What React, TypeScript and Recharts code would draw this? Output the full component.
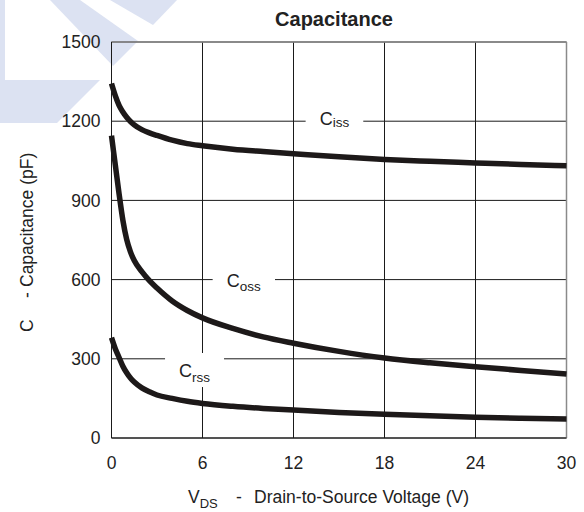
import React from "react";
import {
  CartesianGrid,
  Line,
  LineChart,
  ReferenceArea,
  ReferenceLine,
  XAxis,
  YAxis
} from "recharts";

// drain-to-source voltage (V), denser near 0 where the curves bend
const volts = [0, 0.25, 0.5, 0.75, 1, 1.25, 1.5, 2, 2.5, 3, 4, 5, 6, 8, 10, 12, 15, 18, 21, 24, 27, 30];
// capacitances (pF)
const ciss = [1343, 1297, 1260, 1235, 1215, 1199, 1186, 1168, 1156, 1146, 1128, 1115, 1107, 1094, 1085, 1077, 1065, 1055, 1048, 1042, 1036, 1031];
const coss = [1145, 1035, 925, 825, 752, 705, 672, 630, 596, 568, 519, 483, 455, 415, 383, 359, 328, 303, 285, 270, 256, 242];
const crss = [380, 338, 305, 272, 247, 227, 212, 190, 175, 163, 150, 139, 131, 120, 112, 106, 97, 90, 84, 79, 75, 72];

const voltTicks = [0, 6, 12, 18, 24, 30];
const capTicks = [0, 300, 600, 900, 1200, 1500];

const FONT = "'Liberation Sans', Arial, Helvetica, sans-serif";
const INK = "#1d1919";
const TEXT = "#222";

const data = volts.map((v, i) => ({ v, ciss: ciss[i], coss: coss[i], crss: crss[i] }));

// white box that breaks the grid, with a "C" + subscript label inside
function LabelBox(props: any) {
  const { x, y, width, height, main, sub, dy, subDy } = props;
  if (x == null || y == null) return null;
  const cx = x + width / 2;
  const cy = y + height / 2;
  return (
    <g>
      <rect x={x} y={y} width={width} height={height} fill="#fff" />
      <text x={cx} y={cy + dy} textAnchor="middle" fontFamily={FONT} fontSize={18} fill={TEXT}>
        <tspan>{main}</tspan>
        <tspan fontSize={13.5} dy={subDy}>{sub}</tspan>
      </text>
    </g>
  );
}

function Backdrop() {
  return (
    <svg width={584} height={512} style={{ position: "absolute", left: 0, top: 0 }}>
      <g fill="#dce2f2">
        <polygon points="0,0 5,0 5,80 100,80 57,123 0,123" />
        <polygon points="50,0 80,0 138,41 113,66" />
        <polygon points="110,0 177,0 153,25" />
      </g>
      <text x={334} y={26} textAnchor="middle" fontFamily={FONT} fontWeight="bold" fontSize={20} fill={TEXT}>
        Capacitance
      </text>
      <text fontFamily={FONT} fontSize={17.5} fill={TEXT}>
        <tspan x={188} y={503}>V</tspan>
        <tspan fontSize={13} dy={5}>DS</tspan>
        <tspan x={236} y={503}>-</tspan>
        <tspan x={254} y={503}>Drain-to-Source Voltage (V)</tspan>
      </text>
      <text transform="rotate(-90)" fontFamily={FONT} fontSize={17.5} fill={TEXT}>
        <tspan x={-332} y={33}>C</tspan>
        <tspan x={-298} y={33}>-</tspan>
        <tspan x={-287} y={33}>Capacitance (pF)</tspan>
      </text>
    </svg>
  );
}

export default function App() {
  const tickStyle = { fill: TEXT, fontSize: 17.5, fontFamily: FONT };
  return (
    <div style={{ position: "absolute", left: 0, top: 0, width: 584, height: 512 }}>
      <Backdrop />
      <div style={{ position: "absolute", left: 0, top: 0 }}>
        <LineChart
          width={584}
          height={512}
          data={data}
          margin={{ top: 42, right: 17.5, bottom: 0, left: 0 }}
        >
          <CartesianGrid stroke="#1a1a1a" strokeWidth={1} />
          <XAxis
            dataKey="v"
            type="number"
            domain={[0, 30]}
            ticks={voltTicks}
            height={74}
            tickLine={false}
            tickSize={0}
            tickMargin={19}
            axisLine={{ stroke: "#1a1a1a" }}
            tick={tickStyle}
          />
          <YAxis
            type="number"
            domain={[0, 1500]}
            ticks={capTicks}
            width={111.5}
            tickLine={false}
            tickSize={0}
            tickMargin={11}
            axisLine={{ stroke: "#1a1a1a" }}
            tick={tickStyle}
          />
          <ReferenceLine y={1500} stroke="#8a8a8a" strokeWidth={1.5} />
          <ReferenceLine x={30} stroke="#8a8a8a" strokeWidth={1.5} />
          <ReferenceArea
            x1={12.8}
            x2={16.6}
            y1={1160}
            y2={1240}
            shape={(p: any) => <LabelBox {...p} main="C" sub="iss" dy={4} subDy={1.5} />}
          />
          <ReferenceArea
            x1={6.67}
            x2={10.78}
            y1={555}
            y2={645}
            shape={(p: any) => <LabelBox {...p} main="C" sub="oss" dy={7} subDy={4} />}
          />
          <ReferenceArea
            x1={3.53}
            x2={7.42}
            y1={193}
            y2={322}
            shape={(p: any) => <LabelBox {...p} main="C" sub="rss" dy={7} subDy={4.5} />}
          />
          <Line type="monotone" dataKey="ciss" stroke={INK} strokeWidth={5.5} dot={false} isAnimationActive={false} />
          <Line type="monotone" dataKey="coss" stroke={INK} strokeWidth={5.5} dot={false} isAnimationActive={false} />
          <Line type="monotone" dataKey="crss" stroke={INK} strokeWidth={5.5} dot={false} isAnimationActive={false} />
        </LineChart>
      </div>
    </div>
  );
}
